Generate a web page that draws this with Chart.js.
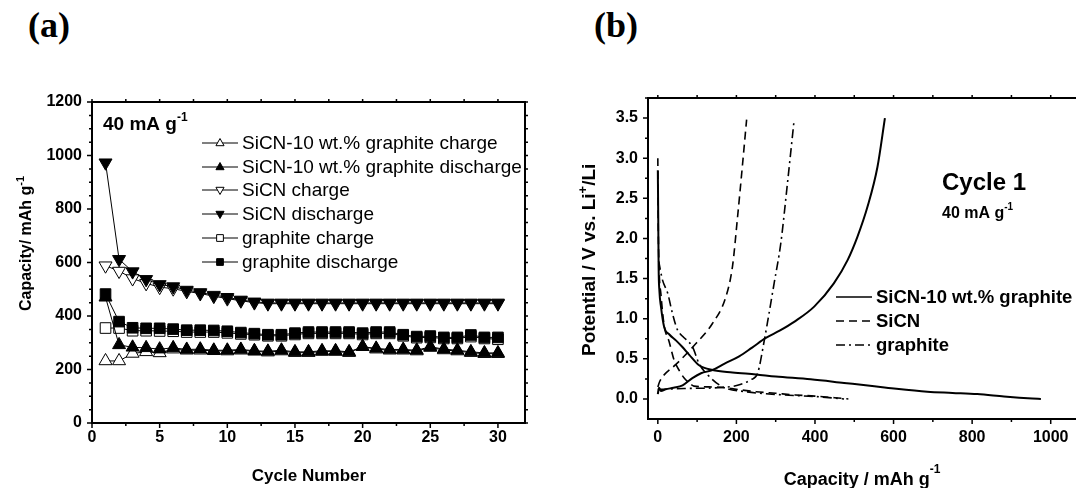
<!DOCTYPE html>
<html>
<head>
<meta charset="utf-8">
<script src="https://cdn.jsdelivr.net/npm/chart.js@4.4.1/dist/chart.umd.min.js"></script>
<style>
  html, body { margin: 0; padding: 0; background: #fff; overflow: hidden; }
  body { width: 1076px; height: 488px; position: relative; }
  #boxA { position: absolute; left: 0; top: 0; width: 538px; height: 488px; }
  #boxB { position: absolute; left: 538px; top: 0; width: 552px; height: 488px; }
  .tag { position: absolute; top: 7px; font: bold 36px "Liberation Serif", "Times New Roman", serif; line-height: 36px; color: #000; }
</style>
</head>
<body>
<div class="tag" style="left:28px">(a)</div>
<div class="tag" style="left:594px">(b)</div>
<div id="boxA"><canvas id="chartA" width="538" height="488"></canvas></div>
<div id="boxB"><canvas id="chartB" width="552" height="488"></canvas></div>
<script>
// ---- panel (a): capacity vs cycle number ----
const cycles = [1, 2, 3, 4, 5, 6, 7, 8, 9, 10, 11, 12, 13, 14, 15, 16, 17, 18, 19, 20, 21, 22, 23, 24, 25, 26, 27, 28, 29, 30];
const sicnGrCharge = [232, 232, 260, 266, 262, 276, 272, 272, 270, 269, 272, 268, 265, 269, 263, 263, 267, 267, 263, 285, 276, 272, 272, 269, 282, 273, 269, 263, 259, 259];
const sicnGrDischarge = [470, 292, 283, 281, 276, 281, 275, 276, 272, 272, 275, 270, 268, 272, 266, 266, 270, 270, 266, 285, 279, 275, 275, 272, 285, 276, 272, 266, 262, 262];
const sicnCharge = [588, 568, 540, 522, 508, 502, 492, 484, 474, 465, 457, 450, 446, 446, 446, 446, 446, 446, 446, 446, 446, 446, 446, 446, 446, 446, 446, 446, 446, 446];
const sicnDischarge = [973, 612, 566, 537, 518, 510, 497, 488, 478, 470, 460, 453, 449, 449, 449, 449, 449, 449, 449, 449, 449, 449, 449, 449, 449, 449, 449, 449, 449, 449];
const graphiteCharge = [355, 355, 345, 345, 344, 343, 340, 340, 340, 337, 333, 330, 326, 326, 331, 335, 335, 335, 335, 331, 335, 335, 326, 319, 320, 316, 316, 323, 316, 313];
const graphiteDischarge = [482, 379, 356, 354, 354, 351, 347, 347, 346, 343, 338, 334, 330, 330, 336, 340, 340, 340, 340, 336, 340, 340, 330, 323, 325, 320, 320, 329, 320, 320];
const seriesLabelsA = ["SiCN-10 wt.% graphite charge", "SiCN-10 wt.% graphite discharge", "SiCN charge", "SiCN discharge", "graphite charge", "graphite discharge"];
const xTicksA = [0, 5, 10, 15, 20, 25, 30];
const yTicksA = [0, 200, 400, 600, 800, 1000, 1200];

// ---- panel (b): first cycle potential profiles ----
const solidDisCap = [0, 1, 2, 4, 8, 16, 30, 46, 62, 80, 105, 139, 190, 250, 300, 389, 474, 540, 601, 686, 750, 813, 881, 920, 953, 975];
const solidDisV = [2.85, 2.3, 1.65, 1.35, 1.15, 0.90, 0.80, 0.73, 0.65, 0.55, 0.42, 0.36, 0.33, 0.305, 0.28, 0.245, 0.20, 0.165, 0.13, 0.09, 0.075, 0.06, 0.03, 0.015, 0.005, 0.0];
const solidChCap = [0, 3, 8, 20, 40, 63, 88, 110, 139, 170, 207, 240, 275, 310, 347, 398, 448, 483, 508, 534, 559, 578];
const solidChV = [0.06, 0.14, 0.10, 0.12, 0.14, 0.17, 0.26, 0.32, 0.36, 0.44, 0.53, 0.64, 0.76, 0.85, 0.96, 1.15, 1.44, 1.73, 2.02, 2.40, 2.89, 3.5];
const sicnDisCap = [0, 1, 3, 8, 16, 29, 41, 55, 67, 80, 92, 130, 170, 200, 250, 300, 350, 400, 450, 485];
const sicnDisV = [3.0, 2.2, 1.65, 1.3, 0.92, 0.71, 0.49, 0.35, 0.26, 0.2, 0.16, 0.15, 0.14, 0.12, 0.09, 0.07, 0.05, 0.035, 0.015, 0.0];
const sicnChCap = [0, 5, 16, 46, 97, 139, 173, 190, 203, 215, 226];
const sicnChV = [0.15, 0.22, 0.30, 0.43, 0.69, 0.94, 1.27, 1.65, 2.27, 2.89, 3.48];
const grDisCap = [2, 12, 25, 37, 50, 63, 88, 105, 131, 165, 224, 321, 400, 474];
const grDisV = [1.72, 1.48, 1.32, 1.07, 0.86, 0.78, 0.65, 0.44, 0.28, 0.15, 0.09, 0.05, 0.03, 0.0];
const grChCap = [0, 8, 67, 152, 203, 237, 254, 271, 279, 296, 313, 330, 347];
const grChV = [0.12, 0.12, 0.13, 0.14, 0.17, 0.24, 0.32, 0.73, 0.95, 1.44, 1.94, 2.69, 3.48];
const seriesLabelsB = ["SiCN-10 wt.% graphite", "SiCN", "graphite"];
const xTicksB = [0, 200, 400, 600, 800, 1000];
const yTicksB = [0, 0.5, 1, 1.5, 2, 2.5, 3, 3.5];

const FONT = '"Liberation Sans", Arial, Helvetica, sans-serif';
const DASH = [8, 5];
const DASHDOT = [9, 4, 2, 4];

function zip(xs, ys) {
  return xs.map((x, i) => ({ x: x, y: ys[i] }));
}

// draws text made of normal + superscript pieces
function richText(ctx, parts, x, y, rotate, align) {
  ctx.save();
  ctx.translate(x, y);
  if (rotate) ctx.rotate(rotate);
  ctx.fillStyle = "#000";
  ctx.textBaseline = "alphabetic";
  ctx.textAlign = "left";
  let total = 0;
  parts.forEach(p => { ctx.font = p.font; total += ctx.measureText(p.text).width; });
  let cx = align === "center" ? -total / 2 : 0;
  parts.forEach(p => {
    ctx.font = p.font;
    ctx.fillText(p.text, cx, p.dy || 0);
    cx += ctx.measureText(p.text).width;
  });
  ctx.restore();
}

function marker(ctx, style, x, y, r, filled) {
  ctx.save();
  ctx.beginPath();
  if (style === "rect") {
    ctx.rect(x - r * 0.75, y - r * 0.75, r * 1.5, r * 1.5);
  } else {
    const s = style === "down" ? -1 : 1;
    ctx.moveTo(x, y - s * r);
    ctx.lineTo(x + r * 0.9, y + s * r * 0.6);
    ctx.lineTo(x - r * 0.9, y + s * r * 0.6);
    ctx.closePath();
  }
  ctx.fillStyle = filled ? "#000" : "#fff";
  ctx.fill();
  ctx.lineWidth = 1;
  ctx.strokeStyle = "#000";
  ctx.stroke();
  ctx.restore();
}

// box around the plot plus major/minor tick marks (outward)
function frameTicks(cfg) {
  return {
    id: "frameTicks",
    afterDatasetsDraw(chart) {
      const ctx = chart.ctx, a = chart.chartArea, xs = chart.scales.x, ys = chart.scales.y;
      ctx.save();
      ctx.strokeStyle = "#000";
      ctx.lineWidth = 2;
      ctx.strokeRect(a.left, a.top, a.right - a.left, a.bottom - a.top);
      ctx.lineWidth = 1.5;
      ctx.beginPath();
      for (let v = cfg.xStart; v <= xs.max + 1e-9; v += cfg.xMinor) {
        const px = xs.getPixelForValue(v);
        const major = Math.abs(v / cfg.xMajor - Math.round(v / cfg.xMajor)) < 1e-6;
        const len = major ? 5 : 3;
        ctx.moveTo(px, a.bottom); ctx.lineTo(px, a.bottom + len);
        ctx.moveTo(px, a.top); ctx.lineTo(px, a.top - 3);
      }
      for (let v = cfg.yStart; v <= ys.max + 1e-9; v += cfg.yMinor) {
        const py = ys.getPixelForValue(v);
        const major = Math.abs(v / cfg.yMajor - Math.round(v / cfg.yMajor)) < 1e-6;
        const len = major ? 5 : 3;
        ctx.moveTo(a.left, py); ctx.lineTo(a.left - len, py);
        if (cfg.rightTicks) { ctx.moveTo(a.right, py); ctx.lineTo(a.right + 3, py); }
      }
      ctx.stroke();
      ctx.restore();
    }
  };
}

function tickFont() {
  return { family: FONT, weight: "bold", size: 16 };
}

// ---------------- chart (a) ----------------
const styleA = [
  { shape: "triangle", filled: false },
  { shape: "triangle", filled: true },
  { shape: "down", filled: false },
  { shape: "down", filled: true },
  { shape: "rect", filled: false },
  { shape: "rect", filled: true }
];
const valuesA = [sicnGrCharge, sicnGrDischarge, sicnCharge, sicnDischarge, graphiteCharge, graphiteDischarge];

const datasetsA = valuesA.map((vals, i) => {
  const st = styleA[i];
  return {
    label: seriesLabelsA[i],
    data: zip(cycles, vals),
    borderColor: "#000",
    borderWidth: 1,
    pointStyle: st.shape === "rect" ? "rect" : "triangle",
    pointRotation: st.shape === "down" ? 180 : 0,
    pointRadius: 7.5,
    pointBackgroundColor: st.filled ? "#000" : "#fff",
    pointBorderColor: "#000",
    pointBorderWidth: 1,
    tension: 0,
    fill: false,
    order: st.filled ? 0 : 1
  };
});

const textA = {
  id: "textA",
  afterDraw(chart) {
    const ctx = chart.ctx;
    richText(ctx, [
      { text: "40 mA g", font: "bold 19px " + FONT },
      { text: "-1", font: "bold 12px " + FONT, dy: -9 }
    ], 103, 130);
    const rows = [143, 167, 190, 214, 238, 262];
    rows.forEach((ry, i) => {
      ctx.save();
      ctx.strokeStyle = "#000";
      ctx.lineWidth = 1;
      ctx.beginPath();
      ctx.moveTo(202, ry); ctx.lineTo(238, ry);
      ctx.stroke();
      ctx.restore();
      marker(ctx, styleA[i].shape, 220, ry, 4.5, styleA[i].filled);
      ctx.save();
      ctx.fillStyle = "#000";
      ctx.font = "19px " + FONT;
      ctx.textBaseline = "middle";
      ctx.fillText(seriesLabelsA[i], 242, ry + 1);
      ctx.restore();
    });
    richText(ctx, [
      { text: "Capacity/ mAh g", font: "bold 16px " + FONT },
      { text: "-1", font: "bold 11px " + FONT, dy: -7 }
    ], 31, 311, -Math.PI / 2);
    richText(ctx, [{ text: "Cycle Number", font: "bold 17px " + FONT }], 309, 481, 0, "center");
  }
};

new Chart(document.getElementById("chartA"), {
  type: "line",
  data: { datasets: datasetsA },
  options: {
    responsive: false,
    animation: false,
    layout: { padding: { top: 102, right: 13, left: 0, bottom: 0 } },
    plugins: { legend: { display: false }, tooltip: { enabled: false } },
    scales: {
      x: {
        type: "linear", min: 0, max: 32,
        afterBuildTicks: s => { s.ticks = xTicksA.map(v => ({ value: v })); },
        afterFit: s => { s.height = 65; },
        grid: { display: false, drawTicks: false }, border: { display: false },
        ticks: { color: "#000", font: tickFont(), padding: 5, maxRotation: 0, autoSkip: false, callback: v => String(v) }
      },
      y: {
        type: "linear", min: 0, max: 1200,
        afterBuildTicks: s => { s.ticks = yTicksA.map(v => ({ value: v })); },
        afterFit: s => { s.width = 92; },
        grid: { display: false, drawTicks: false }, border: { display: false },
        ticks: { color: "#000", font: tickFont(), padding: 10, callback: v => String(v) }
      }
    }
  },
  plugins: [frameTicks({ xStart: 0, xMinor: 2.5, xMajor: 5, yStart: 0, yMinor: 50, yMajor: 200, rightTicks: true }), textA]
});

// ---------------- chart (b) ----------------
const curvesB = [
  { cap: solidDisCap, v: solidDisV, dash: [], width: 2, group: 0 },
  { cap: solidChCap, v: solidChV, dash: [], width: 2, group: 0 },
  { cap: sicnDisCap, v: sicnDisV, dash: DASH, width: 1.6, group: 1 },
  { cap: sicnChCap, v: sicnChV, dash: DASH, width: 1.6, group: 1 },
  { cap: grDisCap, v: grDisV, dash: DASHDOT, width: 1.6, group: 2 },
  { cap: grChCap, v: grChV, dash: DASHDOT, width: 1.6, group: 2 }
];

const datasetsB = curvesB.map(c => ({
  label: seriesLabelsB[c.group],
  data: zip(c.cap, c.v),
  borderColor: "#000",
  borderWidth: c.width,
  borderDash: c.dash,
  pointRadius: 0,
  cubicInterpolationMode: "monotone",
  fill: false
}));

const textB = {
  id: "textB",
  afterDraw(chart) {
    const ctx = chart.ctx;
    richText(ctx, [{ text: "Cycle 1", font: "bold 24px " + FONT }], 404, 190);
    richText(ctx, [
      { text: "40 mA g", font: "bold 16px " + FONT },
      { text: "-1", font: "bold 10px " + FONT, dy: -8 }
    ], 404, 218);
    const rows = [297, 321, 345];
    const dashes = [[], DASH, DASHDOT];
    rows.forEach((ry, i) => {
      ctx.save();
      ctx.strokeStyle = "#000";
      ctx.lineWidth = 1.6;
      ctx.setLineDash(dashes[i]);
      ctx.beginPath();
      ctx.moveTo(298, ry); ctx.lineTo(334, ry);
      ctx.stroke();
      ctx.restore();
      ctx.save();
      ctx.fillStyle = "#000";
      ctx.font = "bold 18.5px " + FONT;
      ctx.textBaseline = "middle";
      ctx.fillText(seriesLabelsB[i], 338, ry + 1);
      ctx.restore();
    });
    richText(ctx, [
      { text: "Potential / V vs. Li", font: "bold 19px " + FONT },
      { text: "+", font: "bold 13px " + FONT, dy: -8 },
      { text: "/Li", font: "bold 19px " + FONT }
    ], 57, 356, -Math.PI / 2);
    richText(ctx, [
      { text: "Capacity / mAh g", font: "bold 18px " + FONT },
      { text: "-1", font: "bold 12px " + FONT, dy: -12 }
    ], 324, 485, 0, "center");
  }
};

new Chart(document.getElementById("chartB"), {
  type: "line",
  data: { datasets: datasetsB },
  options: {
    responsive: false,
    animation: false,
    layout: { padding: { top: 98, right: 0, left: 0, bottom: 0 } },
    plugins: { legend: { display: false }, tooltip: { enabled: false } },
    scales: {
      x: {
        type: "linear", min: -25, max: 1100,
        afterBuildTicks: s => { s.ticks = xTicksB.map(v => ({ value: v })); },
        afterFit: s => { s.height = 69; },
        grid: { display: false, drawTicks: false }, border: { display: false },
        ticks: { color: "#000", font: tickFont(), padding: 9, maxRotation: 0, autoSkip: false, callback: v => String(v) }
      },
      y: {
        type: "linear", min: -0.25, max: 3.75,
        afterBuildTicks: s => { s.ticks = yTicksB.map(v => ({ value: v })); },
        afterFit: s => { s.width = 110; },
        grid: { display: false, drawTicks: false }, border: { display: false },
        ticks: { color: "#000", font: tickFont(), padding: 10, callback: v => v.toFixed(1) }
      }
    }
  },
  plugins: [frameTicks({ xStart: 0, xMinor: 100, xMajor: 200, yStart: 0, yMinor: 0.25, yMajor: 0.5, rightTicks: false }), textB]
});
</script>
</body>
</html>
